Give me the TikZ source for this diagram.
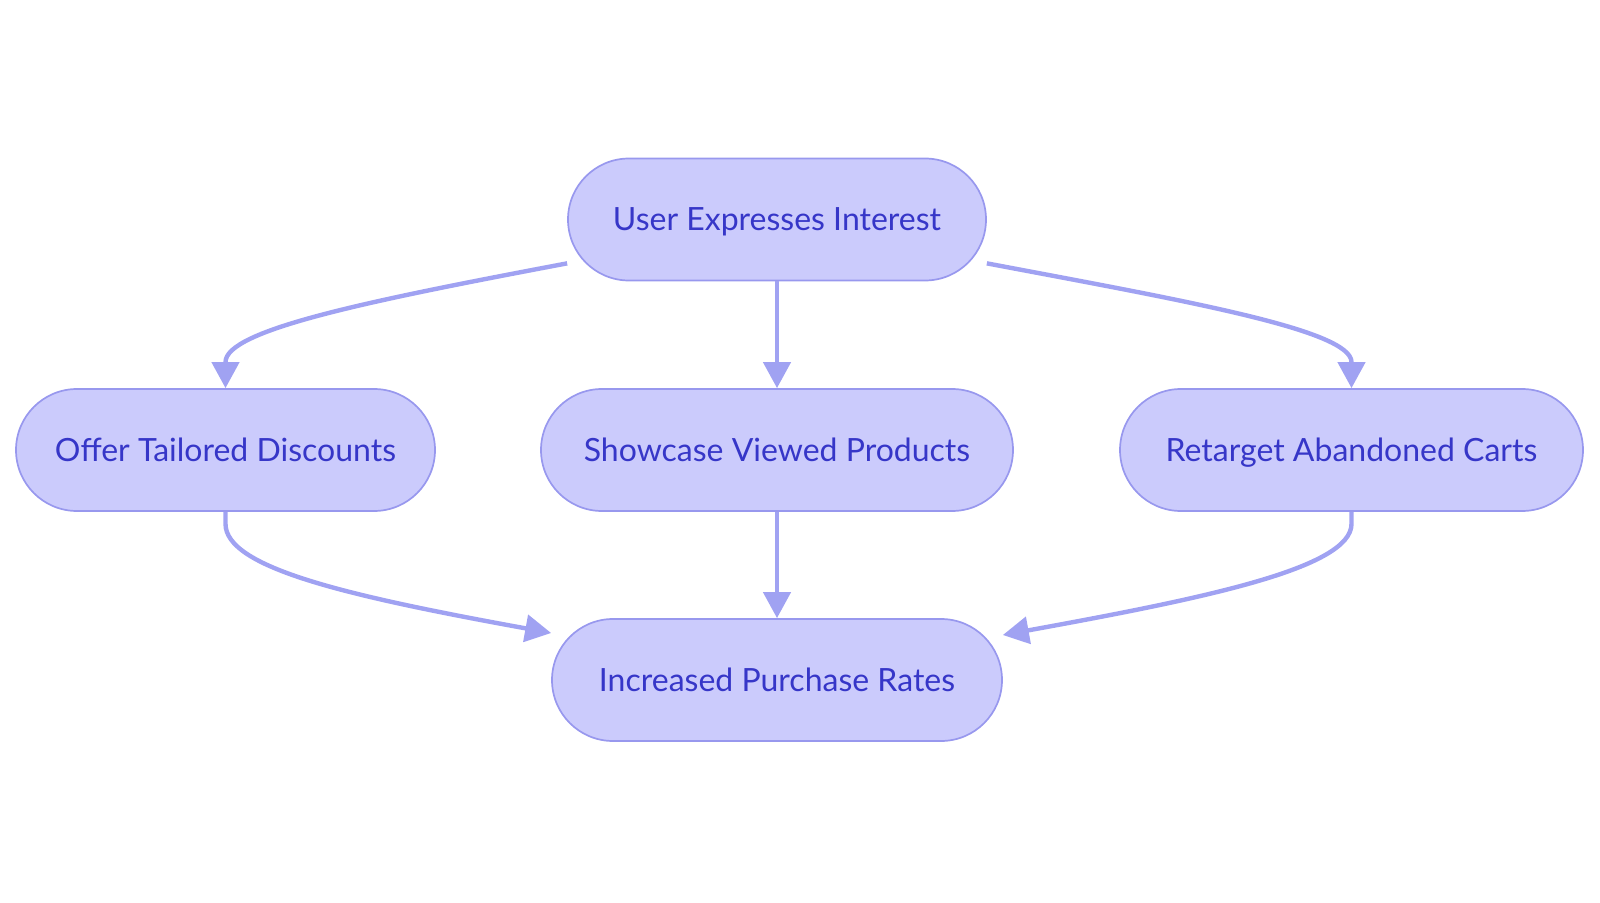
\documentclass[tikz,border=0pt]{standalone}
\usepackage{fontspec}
\setmainfont{Lato}
\usetikzlibrary{arrows.meta}
\definecolor{nodefill}{RGB}{203,203,252}
\definecolor{nodeborder}{RGB}{152,152,238}
\definecolor{edgecol}{RGB}{160,162,242}
\definecolor{textcol}{RGB}{54,54,200}
\tikzset{
  pill/.style={draw=nodeborder, fill=nodefill, line width=0.85pt,
    rounded corners=30.5pt, minimum height=61pt, inner sep=0pt,
    text height=11.5pt, text depth=0pt,
    text=textcol, font=\fontsize{16pt}{19pt}\selectfont},
  edge/.style={draw=edgecol, line width=2.2pt,
    -{Triangle[length=13pt,width=13.5pt]}}
}
\begin{document}
\begin{tikzpicture}[x=0.5pt,y=-0.5pt]
\useasboundingbox (0,0) rectangle (1600,903);
\node[pill, minimum width=209pt] (T) at (777,219.5) {User Expresses Interest};
\node[pill, minimum width=209.5pt] (L) at (225.5,450) {Offer Tailored Discounts};
\node[pill, minimum width=236pt] (M) at (777,450) {Showcase Viewed Products};
\node[pill, minimum width=231.5pt] (R) at (1351.5,450) {Retarget Abandoned Carts};
\node[pill, minimum width=225pt] (B) at (777,680) {Increased Purchase Rates};

\draw[edge] (T.south) -- (M.north);
\draw[edge] (M.south) -- (B.north);
\draw[edge] ([yshift=9pt]T.south west) .. controls (368,301) and (225.5,330) .. ([yshift=13pt]L.north) -- (L.north);
\draw[edge] ([yshift=9pt]T.south east) .. controls (1186,301) and (1351.5,330) .. ([yshift=13pt]R.north) -- (R.north);
\draw[edge] (L.south) -- ([yshift=-6pt]L.south) .. controls (225.5,568) and (348,596) .. ([yshift=23.5pt]B.west);
\draw[edge] (R.south) -- ([yshift=-6pt]R.south) .. controls (1351.5,568) and (1206,598) .. ([yshift=22.5pt]B.east);
\end{tikzpicture}
\end{document}
